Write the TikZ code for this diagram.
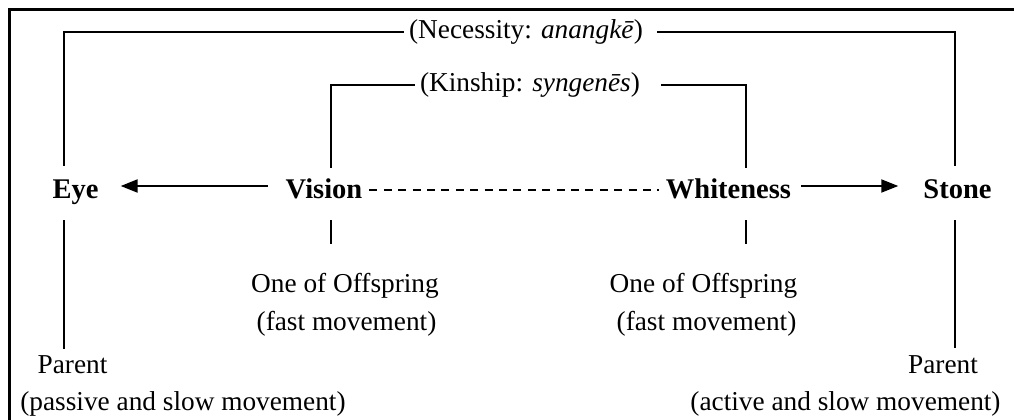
\documentclass[tikz,border=0pt]{standalone}
\usepackage{fontspec}
\setmainfont{Liberation Serif}
\usetikzlibrary{arrows.meta}
\begin{document}
\begin{tikzpicture}[x=1pt,y=-1pt,
  lbl/.style={inner sep=0pt, anchor=base, font=\fontsize{27.3}{32}\selectfont},
  key/.style={inner sep=0pt, anchor=base, font=\fontsize{28.5}{32}\selectfont\bfseries},
  link/.style={line width=2pt},
  arr/.style={line width=2pt, -{Triangle[length=17pt,width=13pt]}},
  dashline/.style={line width=2.6pt, dash pattern=on 8pt off 6.4pt}]
\useasboundingbox (0,0) rectangle (1014,420);
\clip (0,0) rectangle (1014,420);
\draw[line width=2.6pt] (9.5,9.5) rectangle (1040,440);

% main row
\node[key] (eye) at (75.5,198) {Eye};
\node[key] (vision) at (324,198) {Vision};
\node[key] (white) at (728.5,198) {Whiteness};
\node[key] (stone) at (957.5,198) {Stone};

\draw[arr] ([xshift=-18pt,yshift=12pt]vision.base west) -- ([xshift=22pt,yshift=12pt]eye.base east);
\draw[arr] ([xshift=10pt,yshift=12pt]white.base east) -- ([xshift=-25pt,yshift=12pt]stone.base west);
\draw[dashline] ([xshift=7pt,yshift=8pt]vision.base east) -- ([xshift=-7pt,yshift=8pt]white.base west);

% upper relations
\node[lbl, anchor=center] (nec) at (526,32) {(Necessity: \textit{anangkē})};
\node[lbl, anchor=center] (kin) at (530,85) {(Kinship: \textit{syngenēs})};
\coordinate (eyetop) at (64,166);
\coordinate (stonetop) at (955,166);
\coordinate (vistop) at (331,168);
\coordinate (whtop) at (746,168);
\draw[link] ([xshift=-5pt]nec.west) -| (eyetop);
\draw[link] ([xshift=14pt]nec.east) -| (stonetop);
\draw[link] ([xshift=-5pt]kin.west) -| (vistop);
\draw[link] ([xshift=21pt]kin.east) -| (whtop);

% lower labels
\node[lbl] (off1a) at (345,292) {One of Offspring};
\node[lbl] (off1b) at (346.5,330) {(fast movement)};
\node[lbl] (off2a) at (703.5,292) {One of Offspring};
\node[lbl] (off2b) at (706.5,330) {(fast movement)};
\node[lbl] (par1a) at (72.5,373) {Parent};
\node[lbl] (par1b) at (183,410) {(passive and slow movement)};
\node[lbl] (par2a) at (943,373) {Parent};
\node[lbl] (par2b) at (845.5,410) {(active and slow movement)};

% lower connectors
\coordinate (eyebA) at (64,220);
\coordinate (eyebB) at (64,349);
\coordinate (visbA) at (331,220);
\coordinate (visbB) at (331,244);
\coordinate (whbA) at (746,220);
\coordinate (whbB) at (746,244);
\coordinate (stbA) at (955,220);
\coordinate (stbB) at (955,348);
\draw[link] (eyebA) -- (eyebB);
\draw[link] (visbA) -- (visbB);
\draw[link] (whbA) -- (whbB);
\draw[link] (stbA) -- (stbB);
\end{tikzpicture}
\end{document}
